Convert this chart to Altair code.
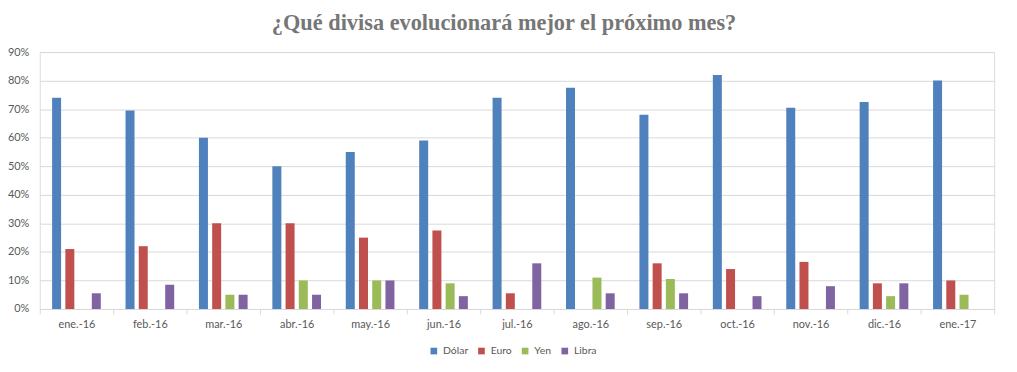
import altair as alt
import pandas as pd

months = ["ene.-16", "feb.-16", "mar.-16", "abr.-16", "may.-16", "jun.-16",
          "jul.-16", "ago.-16", "sep.-16", "oct.-16", "nov.-16", "dic.-16", "ene.-17"]
series = ["Dólar", "Euro", "Yen", "Libra"]
colors = ["#4F81BD", "#C0504D", "#9BBB59", "#8064A2"]

dolar = [74, 69.5, 60, 50, 55, 59, 74, 77.5, 68, 82, 70.5, 72.5, 80]
euro = [21, 22, 30, 30, 25, 27.5, 5.5, 0, 16, 14, 16.5, 9, 10]
yen = [0, 0, 5, 10, 10, 9, 0, 11, 10.5, 0, 0, 4.5, 5]
libra = [5.5, 8.5, 5, 5, 10, 4.5, 16, 5.5, 5.5, 4.5, 8, 9, 0]

rows = []
for name, vals in zip(series, [dolar, euro, yen, libra]):
    for m, v in zip(months, vals):
        rows.append({"mes": m, "divisa": name, "valor": v / 100})
df = pd.DataFrame(rows)

font = "Lato"
gray = "#595959"

chart = alt.Chart(df).mark_bar().encode(
    x=alt.X("mes:N", sort=months, title=None,
            scale=alt.Scale(paddingInner=0, paddingOuter=0),
            axis=alt.Axis(labelAngle=0, tickBand="extent", ticks=True, tickSize=5,
                          tickColor="#d9d9d9", domainColor="#d9d9d9", grid=False,
                          labelPadding=5, labelFontSize=11, labelColor=gray, labelFont=font)),
    xOffset=alt.XOffset("divisa:N", sort=series,
                        scale=alt.Scale(paddingInner=0.32, paddingOuter=0.935)),
    y=alt.Y("valor:Q", title=None,
            scale=alt.Scale(domain=[0, 0.9], nice=False),
            axis=alt.Axis(format=".0%", values=[i / 10 for i in range(10)],
                          domain=False, ticks=False, gridColor="#d9d9d9",
                          labelPadding=11, labelFontSize=11, labelColor=gray, labelFont=font)),
    color=alt.Color("divisa:N", sort=series,
                    scale=alt.Scale(domain=series, range=colors),
                    legend=alt.Legend(title=None, orient="none", direction="horizontal",
                                      legendX=392, legendY=296, symbolType="square",
                                      symbolSize=45, symbolStrokeWidth=0,
                                      labelFontSize=10.5, labelColor=gray, labelFont=font,
                                      labelOffset=4, columnPadding=8, symbolOffset=0)),
).properties(
    width=962,
    height=259,
    autosize=alt.AutoSizeParams(type="none"),
    padding={"left": 32, "top": 43, "right": 15, "bottom": 50},
    title=alt.TitleParams("¿Qué divisa evolucionará mejor el próximo mes?",
                          font="Liberation Serif", fontSize=22.5, fontWeight="bold",
                          color="#767676", anchor="middle", offset=12, dx=-13),
).configure_view(
    fill="#f1f1f1", stroke=None
).configure(background="white")

chart.save("out.html", embed_options={"renderer": "svg", "actions": False})
